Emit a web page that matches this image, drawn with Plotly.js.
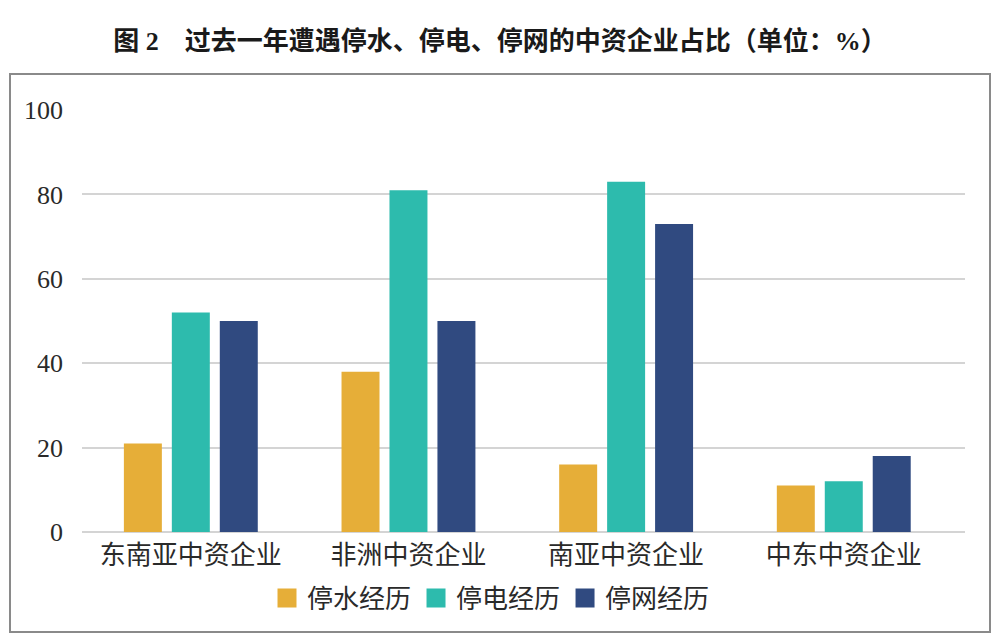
<!DOCTYPE html>
<html>
<head>
<meta charset="utf-8">
<script src="https://cdn.plot.ly/plotly-3.0.1.min.js"></script>
<style>
html,body{margin:0;padding:0;background:#fff;}
#chart{width:1000px;height:641px;}
</style>
</head>
<body>
<div id="chart"></div>
<script>
const categories = ["东南亚中资企业", "非洲中资企业", "南亚中资企业", "中东中资企业"];
const seriesNames = ["停水经历", "停电经历", "停网经历"];
const waterOutage = [21, 38, 16, 11];
const powerOutage = [52, 81, 83, 12];
const netOutage = [50, 50, 73, 18];
const yTicks = [0, 20, 40, 60, 80, 100];
const colors = ["#E6AE38", "#2DBBAD", "#304A80"];

const seriesValues = [waterOutage, powerOutage, netOutage];
const traces = [];
seriesValues.forEach((vals, i) => {
  traces.push({
    type: "bar",
    x: categories,
    y: vals,
    name: seriesNames[i],
    marker: {color: colors[i]},
    showlegend: false,
    hoverinfo: "x+y+name"
  });
});
seriesValues.forEach((vals, i) => {
  traces.push({
    type: "scatter",
    mode: "markers",
    x: [null],
    y: [null],
    name: seriesNames[i],
    marker: {symbol: "square", size: 16, color: colors[i], line: {color: colors[i], width: 3}},
    showlegend: true,
    hoverinfo: "skip"
  });
});

const L = 82, R = 35, T = 110, B = 109;
const W = 1000 - L - R, H = 641 - T - B;
const px = v => (v - L) / W;
const py = v => (641 - B - v) / H;

const layout = {
  width: 1000,
  height: 641,
  margin: {l: L, r: R, t: T, b: B, pad: 0},
  paper_bgcolor: "#ffffff",
  plot_bgcolor: "#ffffff",
  title: {
    text: "<b>图 2　过去一年遭遇停水、停电、停网的中资企业占比（单位：%）</b>",
    font: {family: "Liberation Serif, Noto Sans CJK SC, serif", size: 26, color: "#1a1a1a"},
    x: 0.5, xanchor: "center", xref: "container",
    y: 1 - 41 / 641, yanchor: "middle", yref: "container"
  },
  barmode: "group",
  bargap: 0.339,
  bargroupgap: 0.208,
  xaxis: {
    type: "category",
    range: [-0.5, 3.557],
    tickfont: {family: "Noto Sans CJK SC, sans-serif", size: 26, color: "#2a2a2a"},
    showgrid: false,
    showline: false,
    zeroline: false,
    ticks: "",
    ticklabelstandoff: 5,
    fixedrange: true
  },
  yaxis: {
    range: [0, 100],
    tickvals: yTicks,
    ticktext: yTicks.map(String),
    tickfont: {family: "Liberation Serif, serif", size: 26, color: "#2a2a2a"},
    showgrid: true,
    gridcolor: "#d4d4d4",
    gridwidth: 1.5,
    zeroline: true,
    zerolinecolor: "#d4d4d4",
    zerolinewidth: 1.5,
    showline: false,
    ticks: "",
    ticklabelstandoff: 18,
    fixedrange: true
  },
  legend: {
    orientation: "h",
    x: px(491), xanchor: "center",
    y: py(598), yanchor: "middle",
    font: {family: "Noto Sans CJK SC, sans-serif", size: 26, color: "#2a2a2a"},
    itemclick: false,
    itemdoubleclick: false,
    bgcolor: "rgba(0,0,0,0)"
  },
  shapes: [{
    type: "rect",
    xref: "paper", yref: "paper",
    x0: px(10), x1: px(990),
    y0: py(632), y1: py(74),
    line: {color: "#8a8a8a", width: 2},
    fillcolor: "rgba(0,0,0,0)",
    layer: "below"
  }],
  showlegend: true
};

Plotly.newPlot("chart", traces, layout, {displayModeBar: false, staticPlot: false});
</script>
</body>
</html>
